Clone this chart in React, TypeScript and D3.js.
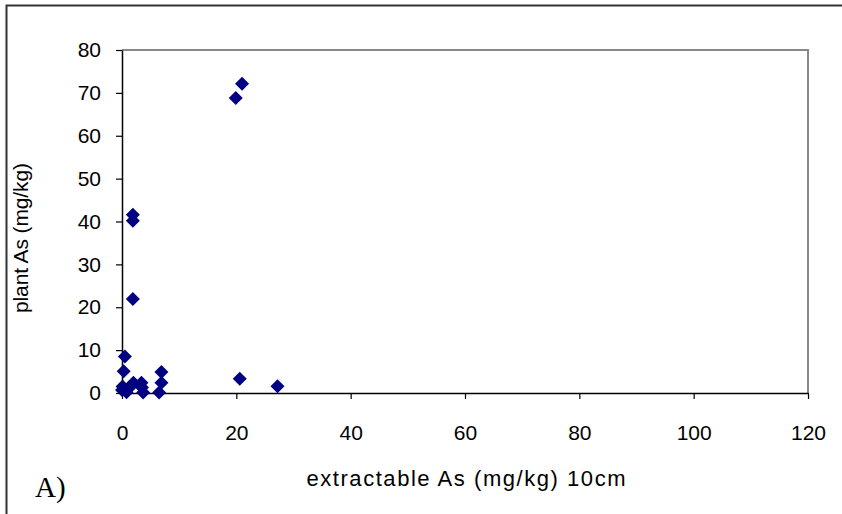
import React, { useEffect, useRef } from "react";
import * as d3 from "d3";

const xValues = [0, 0.3, 0.5, 0.8, 1.3, 1.5, 2.0, 1.9, 1.9, 1.9, 3.4, 3.7, 3.5, 6.5, 6.9, 6.9, 19.9, 21.0, 20.6, 27.2, 0.1];
const yValues = [0.7, 5.1, 8.5, 0.2, 1.3, 1.6, 2.4, 21.9, 40.2, 41.6, 2.4, 0.1, 1.3, 0.1, 2.4, 4.9, 68.8, 72.1, 3.3, 1.6, 1.5];
const xTicks = [0, 20, 40, 60, 80, 100, 120];
const yTicks = [0, 10, 20, 30, 40, 50, 60, 70, 80];
const xTitle = "extractable As (mg/kg) 10cm";
const yTitle = "plant As (mg/kg)";
const panelLabel = "A)";

export default function App() {
  const ref = useRef<SVGSVGElement>(null);
  useEffect(() => {
    const svg = d3.select(ref.current);
    svg.selectAll("*").remove();
    const W = 842, H = 514;
    const x = d3.scaleLinear().domain([0, 120]).range([122, 808]);
    const y = d3.scaleLinear().domain([0, 80]).range([393, 50]);
    const font = "Arial, 'Liberation Sans', sans-serif";

    svg.append("rect").attr("width", W).attr("height", H).attr("fill", "#fff");
    // outer frame
    svg.append("rect").attr("x", 6.5).attr("y", 5.5).attr("width", W + 20).attr("height", H + 20)
      .attr("fill", "none").attr("stroke", "#333").attr("stroke-width", 2);

    // plot area border (gray)
    svg.append("path")
      .attr("d", `M${x(0)},${y(80)}H${x(120)}V${y(0)}`)
      .attr("fill", "none").attr("stroke", "#888").attr("stroke-width", 2);

    // axes
    const gx = svg.append("g").attr("transform", `translate(0,${y(0)})`)
      .call(d3.axisBottom(x).tickValues(xTicks).tickSize(6).tickPadding(10).tickSizeOuter(0));
    const gy = svg.append("g").attr("transform", `translate(${x(0)},0)`)
      .call(d3.axisLeft(y).tickValues(yTicks).tickSize(6).tickPadding(15).tickSizeOuter(0));
    [gx, gy].forEach(g => {
      g.select(".domain").attr("stroke", "#000").attr("stroke-width", 1.5);
      g.selectAll(".tick line").attr("stroke", "#000").attr("stroke-width", 1.2);
      g.selectAll("text").attr("font-family", font).attr("font-size", 21).attr("fill", "#000");
    });
    gx.selectAll("text").attr("y", 47).attr("dy", 0);

    // points
    const sym = d3.symbol().type(d3.symbolDiamond2).size(125);
    svg.append("g").selectAll("path").data(xValues.map((v, i) => [v, yValues[i]]))
      .join("path")
      .attr("d", sym)
      .attr("transform", d => `translate(${x(d[0])},${y(d[1])})`)
      .attr("fill", "#000080");

    svg.append("text").attr("x", 466).attr("y", 486).attr("text-anchor", "middle")
      .attr("font-family", font).attr("font-size", 22)
      .attr("textLength", 319).attr("lengthAdjust", "spacing").text(xTitle);
    svg.append("text").attr("transform", `translate(28,238) rotate(-90)`).attr("text-anchor", "middle")
      .attr("font-family", font).attr("font-size", 21)
      .attr("textLength", 150).attr("lengthAdjust", "spacing").text(yTitle);
    svg.append("text").attr("x", 35).attr("y", 497)
      .attr("font-family", "'Liberation Serif', 'Times New Roman', serif").attr("font-size", 29).text(panelLabel);
  }, []);
  return (
    <svg ref={ref} width={842} height={514}
      style={{ position: "absolute", left: 0, top: 0, display: "block" }} />
  );
}
